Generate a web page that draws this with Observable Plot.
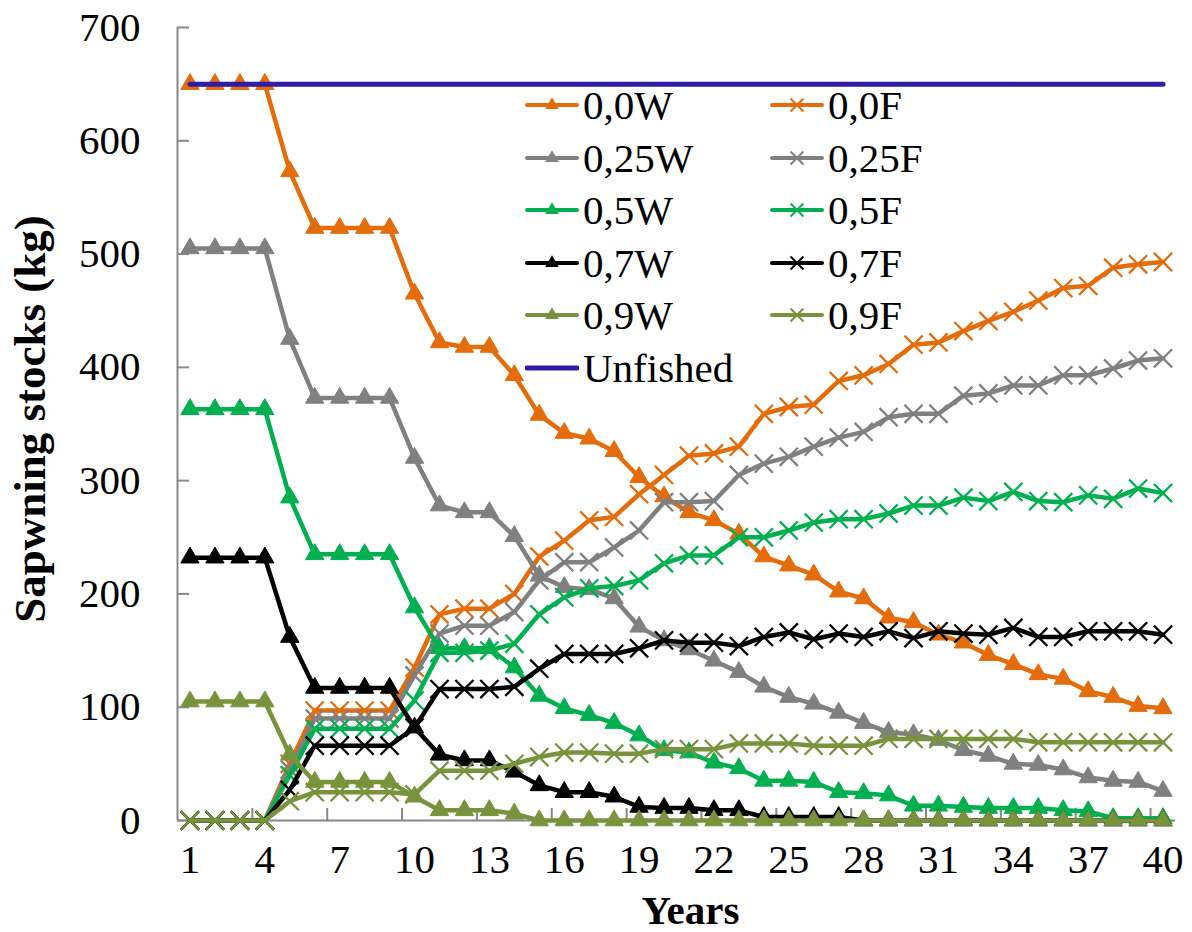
<!DOCTYPE html>
<html>
<head>
<meta charset="utf-8">
<script src="https://cdn.jsdelivr.net/npm/d3@7"></script>
<script src="https://cdn.jsdelivr.net/npm/@observablehq/plot@0.6"></script>
<style>
  body { margin: 0; background: #fff; }
  #wrap { position: relative; width: 1192px; height: 932px; }
  #wrap, #wrap *, #wrap svg text { font-family: 'Liberation Serif', 'Times New Roman', serif !important; }
  .item { position: absolute; display: flex; align-items: center; font-size: 41px; line-height: 1; white-space: nowrap; color: #000; }
  .item svg { display: block; }
</style>
</head>
<body>
<div id="wrap"></div>
<script>
// ---------- data ----------
const years = d3.range(1, 41);
const xLabelTicks = [1, 4, 7, 10, 13, 16, 19, 22, 25, 28, 31, 34, 37, 40];
const xMarkTicks = [3.5, 6.5, 9.5, 12.5, 15.5, 18.5, 21.5, 24.5, 27.5, 30.5, 33.5, 36.5, 39.5];
const yTicks = [0, 100, 200, 300, 400, 500, 600, 700];

const w00 = [650,650,650,650,573,523,523,523,523,465,422,418,418,393,358,342,337,326,303,286,272,265,253,233,225,217,202,196,179,175,164,157,146,138,129,125,114,109,101,99];
const f00 = [0,0,0,0,50,97,97,97,97,135,182,187,187,200,233,247,265,268,288,305,322,324,330,359,365,367,388,393,403,420,422,432,441,449,459,470,472,488,491,493];
const w25 = [505,505,505,505,425,373,373,373,373,320,278,272,272,251,216,206,204,196,171,159,151,141,131,118,109,103,95,86,78,76,71,62,57,50,49,45,38,35,34,26];
const f25 = [0,0,0,0,45,90,90,90,90,128,165,172,172,184,212,228,228,241,256,281,281,282,305,315,321,330,338,343,356,359,359,375,377,384,384,393,393,399,406,408];
const w50 = [363,363,363,363,285,235,235,235,235,188,152,152,152,135,110,99,93,86,75,62,60,51,46,35,35,34,25,24,22,13,13,12,11,11,11,9,8,2,2,2];
const f50 = [0,0,0,0,40,81,81,81,81,106,148,148,150,156,182,197,205,207,212,227,234,234,250,250,256,263,266,266,271,278,278,285,282,290,282,281,287,284,293,289];
const w70 = [232,232,232,232,162,117,117,117,117,82,58,53,53,43,31,25,25,21,12,11,11,9,9,3,3,3,3,0,0,0,0,0,0,0,0,0,0,0,0,0];
const f70 = [0,0,0,0,27,66,66,66,66,82,116,116,116,118,134,147,147,147,152,159,157,157,154,162,166,160,165,162,167,161,167,165,164,170,162,162,167,167,167,164];
const w90 = [105,105,105,105,58,34,34,34,34,21,9,9,9,6,0,0,0,0,0,0,0,0,0,0,0,0,0,0,0,0,0,0,0,0,0,0,0,0,0,0];
const f90 = [0,0,0,0,17,25,25,25,25,23,44,44,44,50,56,60,60,59,59,63,63,63,68,68,68,66,66,66,72,72,72,72,72,72,69,69,69,69,69,69];
const unfished = years.map(() => 650);

const seriesNames = ["0,0W","0,0F","0,25W","0,25F","0,5W","0,5F","0,7W","0,7F","0,9W","0,9F"];
const seriesValues = [w00, f00, w25, f25, w50, f50, w70, f70, w90, f90];
const seriesColors = ["#E46C0A","#E46C0A","#808080","#808080","#00B050","#00B050","#000000","#000000","#77933C","#77933C"];
const seriesSymbols = ["triangle","times","triangle","times","triangle","times","triangle","times","triangle","times"];
const unfishedColor = "#2E1BA8";
const axisColor = "#888888";

// ---------- marks ----------
const marks = [];
seriesNames.forEach((name, i) => {
  const rows = years.map((yr, j) => ({year: yr, value: seriesValues[i][j], series: name}));
  marks.push(Plot.line(rows, {x: "year", y: "value", stroke: seriesColors[i], strokeWidth: 4.5, strokeLinejoin: "round", strokeLinecap: "round"}));
  if (seriesSymbols[i] === "triangle") {
    marks.push(Plot.dot(rows, {x: "year", y: "value", symbol: "triangle", fill: seriesColors[i], stroke: seriesColors[i], strokeWidth: 1, r: 6.8}));
  } else {
    marks.push(Plot.dot(rows, {x: "year", y: "value", symbol: "times", stroke: seriesColors[i], strokeWidth: 2.3, r: 8.3}));
  }
});
const unfRows = years.map((yr, j) => ({year: yr, value: unfished[j]}));
marks.push(Plot.line(unfRows, {x: "year", y: "value", stroke: unfishedColor, strokeWidth: 5, strokeLinecap: "round"}));

const chart = Plot.plot({
  width: 1192,
  height: 932,
  marginLeft: 177,
  marginRight: 17,
  marginTop: 27,
  marginBottom: 112,
  style: {fontSize: "41px", color: "#000", background: "#fff", overflow: "visible"},
  x: {domain: [0.5, 40.5]},
  y: {domain: [0, 700]},
  marks: [
    Plot.ruleY([0], {stroke: axisColor, strokeWidth: 2}),
    Plot.ruleX([0.5], {stroke: axisColor, strokeWidth: 2}),
    Plot.tickX(xMarkTicks, {x: d => d, stroke: axisColor, strokeWidth: 2, insetTop: 781}),
    Plot.tickY(yTicks, {y: d => d, stroke: axisColor, strokeWidth: 2, insetRight: 986}),
    Plot.axisY({ticks: yTicks, tickSize: 0, tickPadding: 37, label: null, fontSize: 41, tickFormat: d => String(d)}),
    Plot.axisX({ticks: xLabelTicks, tickSize: 0, tickPadding: 23, label: null, fontSize: 41, tickFormat: d => String(d)}),
    Plot.text(["Sapwning stocks (kg)"], {frameAnchor: "left", textAnchor: "middle", lineAnchor: "middle", rotate: -90, dx: -147, dy: -5, fontWeight: "bold", fontSize: 45}),
    Plot.text(["Years"], {frameAnchor: "bottom", textAnchor: "middle", lineAnchor: "middle", dy: 90, dx: 14, fontWeight: "bold", fontSize: 41}),
    ...marks
  ]
});

const wrap = document.getElementById("wrap");
wrap.appendChild(chart);

// ---------- legend (overlay) ----------
const legendItems = [
  ...seriesNames.map((n, i) => ({name: n, color: seriesColors[i], symbol: seriesSymbols[i], width: 4})),
  {name: "Unfished", color: unfishedColor, symbol: null, width: 5}
];
const rowY = [105, 158, 210, 263, 315, 368];
const colX = [525, 770];
legendItems.forEach((it, k) => {
  let col, row;
  if (it.name === "Unfished") { col = 0; row = 5; }
  else { col = k % 2; row = Math.floor(k / 2); }
  const div = document.createElement("div");
  div.className = "item";
  div.style.left = colX[col] + "px";
  div.style.top = (rowY[row] - 26) + "px";
  div.style.height = "52px";
  let sym = "";
  if (it.symbol === "triangle") {
    sym = `<path d="${d3.symbol(d3.symbolTriangle, 80)()}" transform="translate(27,10)" fill="${it.color}"/>`;
  } else if (it.symbol === "times") {
    sym = `<path d="${d3.symbol(d3.symbolTimes, 110)()}" transform="translate(27,10)" fill="none" stroke="${it.color}" stroke-width="2"/>`;
  }
  div.innerHTML = `<svg width="54" height="20"><line x1="2" y1="10" x2="52" y2="10" stroke="${it.color}" stroke-width="${it.width}" stroke-linecap="round"/>${sym}</svg><span style="margin-left:4px">${it.name}</span>`;
  wrap.appendChild(div);
});
</script>
</body>
</html>
